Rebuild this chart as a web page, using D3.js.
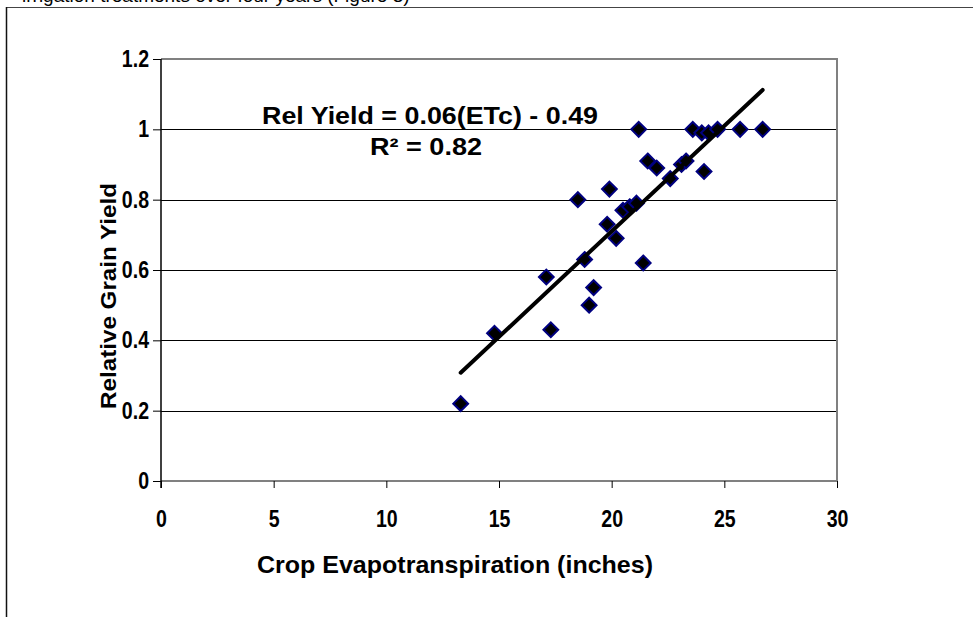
<!DOCTYPE html>
<html>
<head>
<meta charset="utf-8">
<script src="https://cdn.jsdelivr.net/npm/d3@7"></script>
<style>
  body { margin: 0; background: #fff; }
  text { font-family: "Liberation Sans", Arial, sans-serif; }
</style>
</head>
<body>
<div id="chart"></div>
<script>
// crop ET (inches) vs relative grain yield
var etc = [13.3, 14.8, 17.3, 17.1, 18.5, 18.8, 19.0, 19.2, 19.8, 19.9, 20.2, 20.5, 20.8, 21.1,
  21.2, 21.4, 21.6, 22.0, 22.6, 23.1, 23.3, 23.6, 24.0, 24.1, 24.3, 24.7, 25.7, 26.7]
var relYield = [0.22, 0.42, 0.43, 0.58, 0.80, 0.63, 0.50, 0.55, 0.73, 0.83, 0.69, 0.77, 0.78, 0.79,
  1.0, 0.62, 0.91, 0.89, 0.86, 0.90, 0.91, 1.0, 0.99, 0.88, 0.99, 1.0, 1.0, 1.0]
var xTicks = [0, 5, 10, 15, 20, 25, 30]
var yTicks = [0, 0.2, 0.4, 0.6, 0.8, 1, 1.2]
var slope = 0.06
var intercept = -0.49

var width = 973
var height = 617
var margin = { left: 161, right: 136, top: 59, bottom: 136 }
var squeeze = 0.85 // labels in the figure are a bit narrow

var svg = d3.select('#chart').append('svg')
  .attr('width', width)
  .attr('height', height)

svg.append('rect').attr('width', width).attr('height', height).attr('fill', '#fff')

// bit of the page text cut off above the figure
svg.append('text')
  .attr('x', 22)
  .attr('y', 2)
  .style('font-size', '19px')
  .attr('fill', '#000')
  .text('irrigation treatments over four years (Figure 3)')

// figure frame
svg.append('line').attr('x1', 6).attr('x2', width).attr('y1', 7.5).attr('y2', 7.5)
  .attr('stroke', '#444').attr('stroke-width', 1)
svg.append('line').attr('x1', 6.5).attr('x2', 6.5).attr('y1', 7).attr('y2', height)
  .attr('stroke', '#111').attr('stroke-width', 1.5)

var x = d3.scaleLinear().domain([0, 30]).range([margin.left, width - margin.right])
var y = d3.scaleLinear().domain([0, 1.2]).range([height - margin.bottom, margin.top])

var g = svg.append('g')

// gridlines
g.selectAll('.grid').data(yTicks.filter(function (d) { return d > 0 && d < 1.2 }))
  .enter().append('line')
  .attr('x1', x(0)).attr('x2', x(30))
  .attr('y1', function (d) { return Math.round(y(d)) + 0.5 })
  .attr('y2', function (d) { return Math.round(y(d)) + 0.5 })
  .attr('stroke', '#000').attr('stroke-width', 1)

// plot area border (gray top / right / bottom)
g.append('path')
  .attr('d', 'M' + x(0) + ',' + y(1.2) + 'H' + x(30) + 'V' + y(0) + 'H' + x(0))
  .attr('fill', 'none').attr('stroke', '#808080').attr('stroke-width', 2)

// axes
var xAxis = d3.axisBottom(x).tickValues(xTicks).tickSize(7).tickPadding(23)
  .tickFormat(d3.format('d'))
var yAxis = d3.axisLeft(y).tickValues(yTicks).tickSize(8).tickPadding(4)
  .tickFormat(function (d) { return d === 0 ? '0' : d === 1 ? '1' : d3.format('.1f')(d) })

var gx = g.append('g').attr('transform', 'translate(0,' + y(0) + ')').call(xAxis)
gx.select('.domain').remove()
gx.selectAll('line').attr('stroke', '#000')
gx.selectAll('text').style('font-size', '23px').style('font-weight', 'bold').attr('fill', '#000')
  .attr('transform', 'scale(' + squeeze + ',1)')

var gy = g.append('g').attr('transform', 'translate(' + x(0) + ',0)').call(yAxis)
gy.select('.domain').attr('stroke', '#000').attr('stroke-width', 1.5)
  .attr('d', 'M0,' + y(1.2) + 'V' + (y(0) + 7))
gy.selectAll('line').attr('stroke', '#000')
gy.selectAll('text').style('font-size', '23px').style('font-weight', 'bold').attr('fill', '#000')
  .attr('x', -12 / squeeze)
  .attr('transform', 'scale(' + squeeze + ',1)')

// axis titles
svg.append('text')
  .attr('x', 455).attr('y', 573)
  .attr('text-anchor', 'middle')
  .attr('textLength', 396).attr('lengthAdjust', 'spacingAndGlyphs')
  .style('font-size', '24px').style('font-weight', 'bold')
  .text('Crop Evapotranspiration (inches)')

svg.append('text')
  .attr('transform', 'translate(116,296) rotate(-90)')
  .attr('text-anchor', 'middle')
  .attr('textLength', 226).attr('lengthAdjust', 'spacingAndGlyphs')
  .style('font-size', '22px').style('font-weight', 'bold')
  .text('Relative Grain Yield')

// points
var pts = etc.map(function (d, i) { return [d, relYield[i]] })
var diamond = d3.symbol().type(d3.symbolDiamond2).size(140)
g.selectAll('.pt').data(pts).enter().append('path')
  .attr('class', 'pt')
  .attr('transform', function (d) { return 'translate(' + x(d[0]) + ',' + y(d[1]) + ')' })
  .attr('d', diamond)
  .attr('fill', '#000')
  .attr('stroke', '#000080')
  .attr('stroke-width', 2)

// trend line
var xr = d3.extent(etc)
g.append('line')
  .attr('x1', x(xr[0])).attr('y1', y(slope * xr[0] + intercept))
  .attr('x2', x(xr[1])).attr('y2', y(slope * xr[1] + intercept))
  .attr('stroke', '#000').attr('stroke-width', 4).attr('stroke-linecap', 'round')

// equation
svg.append('text')
  .attr('x', 430).attr('y', 124)
  .attr('text-anchor', 'middle')
  .attr('textLength', 336).attr('lengthAdjust', 'spacingAndGlyphs')
  .style('font-size', '24px').style('font-weight', 'bold')
  .text('Rel Yield = ' + slope.toFixed(2) + '(ETc) - ' + Math.abs(intercept).toFixed(2))
svg.append('text')
  .attr('x', 426).attr('y', 155)
  .attr('text-anchor', 'middle')
  .attr('textLength', 112).attr('lengthAdjust', 'spacingAndGlyphs')
  .style('font-size', '24px').style('font-weight', 'bold')
  .text('R² = 0.82')
</script>
</body>
</html>
